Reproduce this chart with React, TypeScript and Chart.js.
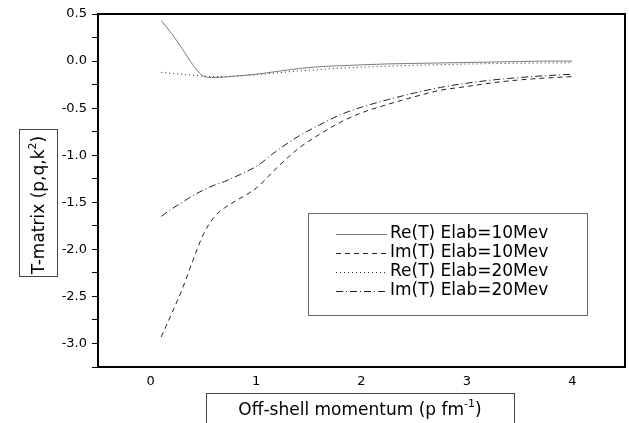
import React, { useEffect, useRef } from "react";
import { Chart, registerables } from "chart.js";

Chart.register(...registerables);

// ---- data ----
const momentum = [0.1, 0.2, 0.3, 0.4, 0.5, 0.6, 0.7, 0.8, 1.0, 1.2, 1.4, 1.6, 1.8, 2.0, 2.25, 2.5, 2.75, 3.0, 3.25, 3.5, 3.75, 4.0];
const reT10 = [0.43, 0.29, 0.13, -0.04, -0.16, -0.175, -0.17, -0.16, -0.14, -0.11, -0.08, -0.06, -0.05, -0.04, -0.03, -0.025, -0.02, -0.015, -0.01, -0.005, 0.0, 0.0];
const imT10 = [-2.93, -2.68, -2.42, -2.12, -1.84, -1.66, -1.56, -1.49, -1.35, -1.13, -0.93, -0.78, -0.65, -0.55, -0.46, -0.38, -0.31, -0.27, -0.23, -0.2, -0.18, -0.165];
const reT20 = [-0.12, -0.13, -0.14, -0.15, -0.16, -0.165, -0.165, -0.16, -0.145, -0.125, -0.105, -0.09, -0.075, -0.065, -0.055, -0.045, -0.038, -0.032, -0.027, -0.023, -0.02, -0.018];
const imT20 = [-1.65, -1.57, -1.5, -1.43, -1.37, -1.32, -1.28, -1.23, -1.12, -0.95, -0.8, -0.68, -0.57, -0.49, -0.41, -0.34, -0.28, -0.235, -0.2, -0.175, -0.155, -0.14];
const seriesLabels = ["Re(T) Elab=10Mev", "Im(T) Elab=10Mev", "Re(T) Elab=20Mev", "Im(T) Elab=20Mev"];
const xTicks = [0, 1, 2, 3, 4];
const yTicks = [-3.25, -3.0, -2.75, -2.5, -2.25, -2.0, -1.75, -1.5, -1.25, -1.0, -0.75, -0.5, -0.25, 0.0, 0.25, 0.5];
const yTitle = ["T-matrix (p,q,k", "2", ")"];
const xTitle = ["Off-shell momentum (p fm", "-1", ")"];

const FONT = "'DejaVu Sans', 'Liberation Sans', sans-serif";

const decorPlugin = {
  id: "decor",
  afterDraw(chart: any) {
    const ctx = chart.ctx as CanvasRenderingContext2D;
    const a = chart.chartArea;
    ctx.save();
    // frame
    ctx.strokeStyle = "#000";
    ctx.lineWidth = 2;
    ctx.setLineDash([]);
    ctx.strokeRect(a.left, a.top, a.right - a.left, a.bottom - a.top);

    // legend box
    ctx.lineWidth = 1;
    ctx.strokeStyle = "#666";
    ctx.strokeRect(308.5, 213.5, 279, 102);
    const rows = [234, 253, 272, 291];
    chart.data.datasets.forEach((ds: any, i: number) => {
      const y = rows[i];
      ctx.save();
      ctx.strokeStyle = ds.borderColor;
      ctx.lineWidth = 1;
      ctx.setLineDash(ds.borderDash || []);
      ctx.beginPath();
      ctx.moveTo(336, y + 0.5);
      ctx.lineTo(387, y + 0.5);
      ctx.stroke();
      ctx.restore();
      ctx.fillStyle = "#000";
      ctx.font = `17px ${FONT}`;
      ctx.textAlign = "left";
      ctx.textBaseline = "middle";
      ctx.fillText(ds.label, 390, y);
    });

    // title boxes
    ctx.strokeStyle = "#444";
    ctx.lineWidth = 1;
    ctx.strokeRect(19.5, 129.5, 38, 147);
    ctx.strokeRect(206.5, 393.5, 308, 40);

    const drawSup = (parts: string[], cx: number, cy: number) => {
      ctx.font = `17px ${FONT}`;
      const w1 = ctx.measureText(parts[0]).width;
      const w3 = ctx.measureText(parts[2]).width;
      ctx.font = `11px ${FONT}`;
      const w2 = ctx.measureText(parts[1]).width;
      const total = w1 + w2 + w3;
      let x = cx - total / 2;
      ctx.textAlign = "left";
      ctx.textBaseline = "alphabetic";
      ctx.fillStyle = "#000";
      ctx.font = `17px ${FONT}`;
      ctx.fillText(parts[0], x, cy + 6);
      x += w1;
      ctx.font = `11px ${FONT}`;
      ctx.fillText(parts[1], x, cy - 2);
      x += w2;
      ctx.font = `17px ${FONT}`;
      ctx.fillText(parts[2], x, cy + 6);
    };

    ctx.save();
    ctx.translate(38, 205);
    ctx.rotate(-Math.PI / 2);
    drawSup(yTitle, 0, 0);
    ctx.restore();

    drawSup(xTitle, 360, 409);
    ctx.restore();
  },
};

export default function App() {
  const ref = useRef<HTMLCanvasElement | null>(null);
  useEffect(() => {
    if (!ref.current) return;
    const series = [reT10, imT10, reT20, imT20];
    const colors = ["#7a7a7a", "#222", "#222", "#222"];
    const dashes = [[], [5, 4], [1, 3], [7, 3, 1, 3]];
    const chart = new Chart(ref.current, {
      type: "line",
      data: {
        datasets: series.map((s, i) => ({
          label: seriesLabels[i],
          data: momentum.map((x, j) => ({ x, y: s[j] })),
          borderColor: colors[i],
          borderWidth: 1,
          borderDash: dashes[i],
          pointRadius: 0,
          fill: false,
          cubicInterpolationMode: "monotone" as const,
        })),
      },
      options: {
        animation: false,
        responsive: false,
        maintainAspectRatio: false,
        layout: { padding: { top: 14, right: 4, left: 0, bottom: 0 } },
        plugins: { legend: { display: false }, tooltip: { enabled: false } },
        scales: {
          x: {
            type: "linear",
            min: -0.5,
            max: 4.5,
            afterBuildTicks: (s: any) => {
              s.ticks = xTicks.map((v) => ({ value: v }));
            },
            afterFit: (s: any) => {
              s.height = 56;
            },
            grid: { display: true, drawOnChartArea: false, drawTicks: false },
            border: { display: false },
            ticks: {
              color: "#000",
              padding: 7,
              font: { family: FONT, size: 13 },
              callback: (v: any) => String(v),
            },
          },
          y: {
            type: "linear",
            min: -3.25,
            max: 0.5,
            afterBuildTicks: (s: any) => {
              s.ticks = yTicks.map((v) => ({ value: v }));
            },
            afterFit: (s: any) => {
              s.width = 98;
            },
            grid: { display: true, drawOnChartArea: false, drawTicks: true, tickLength: 6, tickColor: "#000" },
            border: { display: false },
            ticks: {
              color: "#000",
              padding: 5,
              autoSkip: false,
              font: { family: FONT, size: 13 },
              callback: (v: any) => (Math.abs(v * 2 - Math.round(v * 2)) < 1e-6 ? Number(v).toFixed(1) : ""),
            },
          },
        },
      },
      plugins: [decorPlugin],
    });
    return () => chart.destroy();
  }, []);
  return (
    <div style={{ position: "absolute", left: 0, top: 0, width: 629, height: 423, background: "#fff" }}>
      <canvas ref={ref} width={629} height={423} />
    </div>
  );
}
